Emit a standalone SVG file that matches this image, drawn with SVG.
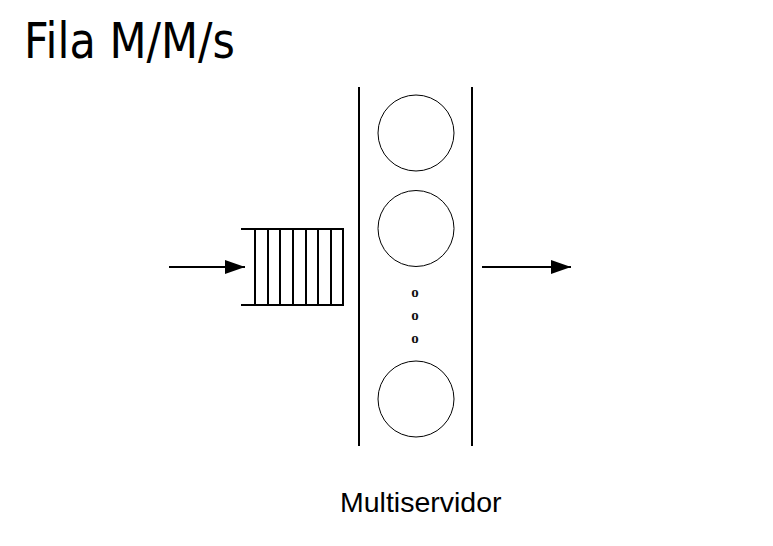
<svg xmlns="http://www.w3.org/2000/svg" width="773" height="546" viewBox="0 0 773 546">
<defs>
<style>
.ln{stroke:#000;stroke-width:2;fill:none}
.srv{stroke:#000;stroke-width:1;fill:#fff}
.dot{font-family:"Liberation Serif",serif;font-weight:bold;font-size:15px;fill:#111;text-anchor:middle}
</style>
<marker id="ah" viewBox="0 0 20 14" refX="20" refY="7" markerWidth="20" markerHeight="14" markerUnits="userSpaceOnUse" orient="auto">
<path d="M0,0 L20,7 L0,14 Z" fill="#000"/>
</marker>
</defs>
<rect width="773" height="546" fill="#fff"/>
<text x="24" y="58" font-family="DejaVu Sans, sans-serif" font-size="49" textLength="211" lengthAdjust="spacingAndGlyphs" fill="#000">Fila M/M/s</text>
<g id="queue">
<path class="ln" d="M241,229 H343 V305 H241"/>
<path class="ln" d="M255,229 V305 M268,229 V305 M280,229 V305 M293,229 V305 M306,229 V305 M318,229 V305 M331,229 V305"/>
</g>
<g id="servers">
<line class="ln" x1="359" y1="87" x2="359" y2="446"/>
<line class="ln" x1="472" y1="87" x2="472" y2="446"/>
<circle class="srv" cx="416" cy="133" r="38"/>
<circle class="srv" cx="416" cy="228.5" r="38"/>
<circle class="srv" cx="416" cy="399" r="38"/>
<text class="dot" x="415" y="297">o</text>
<text class="dot" x="415" y="320">o</text>
<text class="dot" x="415" y="343">o</text>
</g>
<g id="connectors">
<line class="ln" x1="169" y1="267" x2="245" y2="267" marker-end="url(#ah)"/>
<line class="ln" x1="482" y1="267" x2="571" y2="267" marker-end="url(#ah)"/>
</g>
<text x="340" y="512" font-family="Liberation Sans, Arial, sans-serif" font-size="28.5" fill="#000">Multiservidor</text>
</svg>
